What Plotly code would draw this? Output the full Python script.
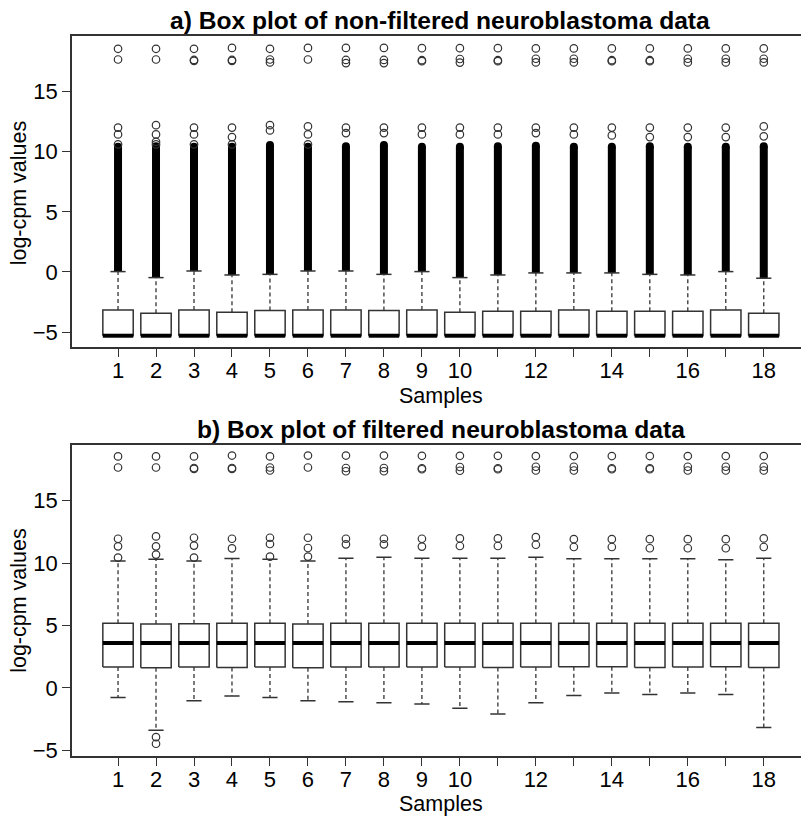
import plotly.graph_objects as go

# ---------------------------------------------------------------- data
samples = list(range(1, 19))
x_ticktext = ["1", "2", "3", "4", "5", "6", "7", "8", "9", "10",
              "", "12", "", "14", "", "16", "", "18"]
y_tickvals = [-5, 0, 5, 10, 15]

# highest genes, present in both the raw and the filtered data
top_outliers = [
    [18.55, 17.66], [18.55, 17.66], [18.55, 17.62, 17.55], [18.62, 17.62, 17.55],
    [18.55, 17.66, 17.42], [18.62, 17.66], [18.62, 17.62, 17.36], [18.62, 17.62, 17.36],
    [18.60, 17.60, 17.52], [18.60, 17.70, 17.40], [18.60, 17.60, 17.52], [18.58, 17.72, 17.42],
    [18.58, 17.72, 17.42], [18.58, 17.60, 17.52], [18.58, 17.60, 17.52], [18.58, 17.72, 17.42],
    [18.58, 17.72, 17.42], [18.58, 17.72, 17.42],
]

# a) non-filtered log-cpm
raw_q1 = [-5.30, -5.30, -5.30, -5.30, -5.30, -5.30, -5.30, -5.30, -5.30,
          -5.30, -5.30, -5.30, -5.30, -5.30, -5.30, -5.30, -5.30, -5.30]
raw_median = [-5.30, -5.30, -5.30, -5.30, -5.30, -5.30, -5.30, -5.30, -5.30,
              -5.30, -5.30, -5.30, -5.30, -5.30, -5.30, -5.30, -5.30, -5.30]
raw_q3 = [-3.16, -3.43, -3.16, -3.35, -3.21, -3.16, -3.16, -3.21, -3.16,
          -3.35, -3.27, -3.27, -3.16, -3.27, -3.27, -3.27, -3.16, -3.43]
raw_whisker_hi = [0.03, -0.47, 0.08, -0.25, -0.20, 0.08, 0.08, -0.20, 0.03,
                  -0.47, -0.25, -0.08, -0.08, -0.08, -0.20, -0.25, 0.03, -0.52]
# upper end of the dense run of outliers above the upper whisker
raw_dense_top = [10.40, 10.45, 10.40, 10.40, 10.55, 10.40, 10.45, 10.55, 10.40,
                 10.40, 10.45, 10.50, 10.40, 10.40, 10.45, 10.40, 10.40, 10.45]
raw_outliers = [
    [12.00, 11.43, 10.60], [12.20, 11.43, 10.82, 10.60], [12.00, 11.43, 10.60],
    [12.00, 11.21, 10.60], [12.20, 11.76], [12.10, 11.43, 10.60],
    [12.00, 11.54], [12.00, 11.54], [12.00, 11.43],
    [12.00, 11.43], [12.00, 11.43], [12.00, 11.54],
    [12.00, 11.43], [12.00, 11.35], [12.00, 11.21],
    [12.00, 11.21], [12.00, 11.21], [12.10, 11.27],
]

# b) filtered log-cpm
filt_q1 = [1.67, 1.62, 1.67, 1.64, 1.67, 1.62, 1.67, 1.67, 1.67,
           1.67, 1.64, 1.67, 1.70, 1.70, 1.64, 1.67, 1.70, 1.64]
filt_median = [3.60, 3.60, 3.60, 3.60, 3.60, 3.60, 3.60, 3.60, 3.60,
               3.60, 3.60, 3.60, 3.60, 3.60, 3.60, 3.60, 3.60, 3.60]
filt_q3 = [5.17, 5.12, 5.14, 5.17, 5.17, 5.12, 5.17, 5.17, 5.17,
           5.17, 5.17, 5.17, 5.17, 5.17, 5.17, 5.17, 5.17, 5.17]
filt_whisker_lo = [-0.77, -3.39, -1.03, -0.66, -0.77, -1.03, -1.11, -1.19, -1.30,
                   -1.64, -2.09, -1.19, -0.61, -0.42, -0.53, -0.42, -0.53, -3.18]
filt_whisker_hi = [10.17, 10.31, 10.17, 10.36, 10.31, 10.17, 10.39, 10.47, 10.39,
                   10.39, 10.39, 10.47, 10.34, 10.34, 10.34, 10.34, 10.26, 10.39]
filt_outliers = [
    [11.95, 11.34, 10.44], [12.14, 11.34, 10.68, -3.95, -4.48], [12.03, 11.40, 10.44],
    [11.95, 11.18], [12.03, 11.53, 10.52], [12.03, 11.21, 10.52],
    [11.95, 11.50], [11.95, 11.50], [11.95, 11.32],
    [11.98, 11.37], [11.98, 11.37], [12.08, 11.47],
    [11.92, 11.29], [11.92, 11.29], [11.92, 11.19],
    [11.92, 11.19], [11.92, 11.19], [11.98, 11.29],
]

# ---------------------------------------------------------------- style
FONT = "Liberation Sans, Arial, Helvetica, sans-serif"
EDGE = "#333333"
BOX_HALF = 0.4
STAPLE_HALF = 0.2
W, H = 801, 825
LEFT = 72

fig = go.Figure()


def add_boxplot(q1, med, q3, lo, hi, outliers, xa, ya, dense_top=None):
    bx, by, wx, wy, sx, sy, mx, my = [], [], [], [], [], [], [], []
    for i, s in enumerate(samples):
        bx += [s - BOX_HALF, s + BOX_HALF, s + BOX_HALF, s - BOX_HALF, s - BOX_HALF, None]
        by += [q1[i], q1[i], q3[i], q3[i], q1[i], None]
        wx += [s, s, None]
        wy += [q3[i], hi[i], None]
        sx += [s - STAPLE_HALF, s + STAPLE_HALF, None]
        sy += [hi[i], hi[i], None]
        if lo is not None:
            wx += [s, s, None]
            wy += [q1[i], lo[i], None]
            sx += [s - STAPLE_HALF, s + STAPLE_HALF, None]
            sy += [lo[i], lo[i], None]
        mx += [s - BOX_HALF, s + BOX_HALF, None]
        my += [med[i], med[i], None]

    common = dict(xaxis=xa, yaxis=ya, showlegend=False, hoverinfo="skip")
    fig.add_trace(go.Scatter(x=wx, y=wy, mode="lines",
                             line=dict(color=EDGE, width=1.3, dash="4px,3px"), **common))
    if dense_top is not None:
        dx, dy = [], []
        for i, s in enumerate(samples):
            dx += [s, s, None]
            dy += [hi[i], dense_top[i], None]
        fig.add_trace(go.Scatter(x=dx, y=dy, mode="lines",
                                 line=dict(color="black", width=8), **common))
        fig.add_trace(go.Scatter(x=samples, y=dense_top, mode="markers",
                                 marker=dict(symbol="circle", size=8, color="black"),
                                 **common))
    fig.add_trace(go.Scatter(x=sx, y=sy, mode="lines",
                             line=dict(color=EDGE, width=1.5), **common))
    fig.add_trace(go.Scatter(x=bx, y=by, mode="lines",
                             line=dict(color=EDGE, width=1.5), **common))
    fig.add_trace(go.Scatter(x=mx, y=my, mode="lines",
                             line=dict(color="black", width=4), **common))

    ox, oy = [], []
    for i, s in enumerate(samples):
        vals = outliers[i] + top_outliers[i]
        ox += [s] * len(vals)
        oy += vals
    fig.add_trace(go.Scatter(x=ox, y=oy, mode="markers",
                             marker=dict(symbol="circle-open", size=7.5, color=EDGE,
                                         line=dict(width=1.2, color=EDGE)),
                             **common))


add_boxplot(raw_q1, raw_median, raw_q3, None, raw_whisker_hi, raw_outliers,
            "x", "y", dense_top=raw_dense_top)
add_boxplot(filt_q1, filt_median, filt_q3, filt_whisker_lo, filt_whisker_hi,
            filt_outliers, "x2", "y2")


def py(px):
    return 1 - px / H


def pxx(px):
    return (px - LEFT) / (W - LEFT)


x_common = dict(range=[-0.2117, 18.98], tickmode="array", tickvals=samples,
                ticktext=x_ticktext, ticks="outside", ticklen=8, tickwidth=1.3,
                tickcolor=EDGE, showline=True, linecolor=EDGE, linewidth=1.5,
                mirror=True, showgrid=False, zeroline=False, ticklabelstandoff=-5,
                tickfont=dict(family=FONT, size=22, color="black"))
y_common = dict(tickmode="array", tickvals=y_tickvals, ticks="outside", ticklen=8,
                tickwidth=1.3, tickcolor=EDGE, showline=True, linecolor=EDGE,
                linewidth=1.5, mirror=False, showgrid=False, zeroline=False,
                tickfont=dict(family=FONT, size=22, color="black"))

fig.update_layout(
    width=W, height=H,
    margin=dict(l=LEFT, r=0, t=0, b=0),
    paper_bgcolor="white", plot_bgcolor="white",
    xaxis=dict(domain=[0, 1], anchor="y", **x_common),
    yaxis=dict(domain=[py(350), py(36.7)], anchor="x", range=[-6.24, 19.58], **y_common),
    xaxis2=dict(domain=[0, 1], anchor="y2", **x_common),
    yaxis2=dict(domain=[py(762.3), py(449)], anchor="x2", range=[-5.45, 19.45], **y_common),
)

ann = []
for text, xc, yc, size, bold, angle in [
    ("a) Box plot of non-filtered neuroblastoma data", 440, 21, 24.6, True, 0),
    ("b) Box plot of filtered neuroblastoma data", 441, 433, 24.6, True, 0),
    ("Samples", 441, 399, 21.5, False, 0),
    ("Samples", 441, 811, 21.5, False, 0),
    ("log-cpm values", 19, 195, 21.5, False, -90),
    ("log-cpm values", 19, 606, 21.5, False, -90),
]:
    ann.append(dict(text=f"<b>{text}</b>" if bold else text, xref="paper", yref="paper",
                    x=pxx(xc), y=py(yc), xanchor="center", yanchor="middle",
                    showarrow=False, textangle=angle,
                    font=dict(family=FONT, size=size, color="black")))
fig.update_layout(annotations=ann)

fig.write_html("out.html")
